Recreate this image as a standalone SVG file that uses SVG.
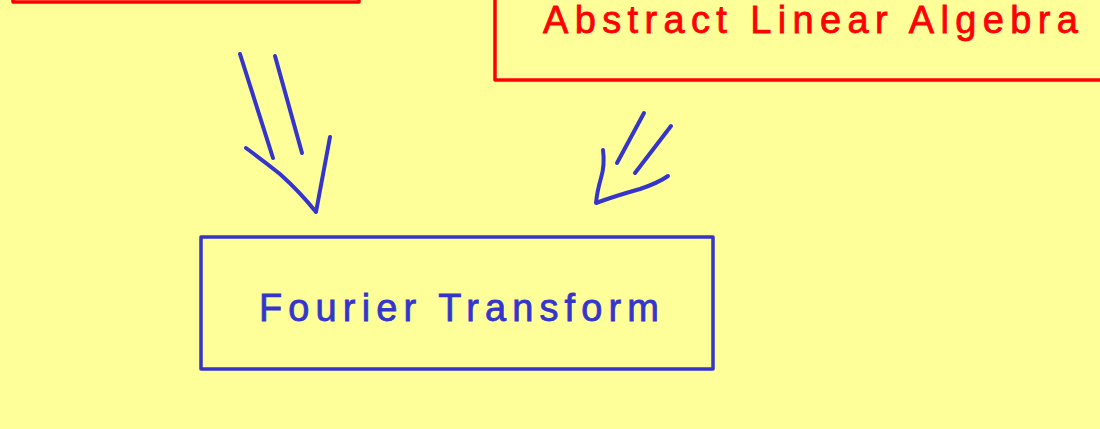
<svg xmlns="http://www.w3.org/2000/svg" width="1100" height="429" viewBox="0 0 1100 429">
  <style>
    .red-box { fill: none; stroke: #ff0000; stroke-width: 3.5; stroke-linejoin: round; }
    .blue-box { fill: none; stroke: #3535cc; stroke-width: 3.5; stroke-linejoin: round; }
    .label { font-family: "Liberation Sans", "DejaVu Sans", sans-serif; font-size: 38px; stroke-width: 0.8; }
    .red-text { fill: #ff0000; stroke: #ff0000; }
    .blue-text { fill: #3535cc; stroke: #3535cc; }
    .stroke { fill: none; stroke: #3535cc; stroke-width: 4; stroke-linecap: round; stroke-linejoin: round; }
  </style>
  <rect x="0" y="0" width="1100" height="429" fill="#ffff99"/>

  <!-- upper-left node, mostly above the frame -->
  <g id="node-top-left">
    <rect class="red-box" x="13" y="-120" width="346" height="122"/>
  </g>

  <!-- upper-right node -->
  <g id="node-abstract-linear-algebra">
    <rect class="red-box" x="495" y="-60" width="660" height="140"/>
    <text class="label red-text" x="543" y="33" textLength="535" lengthAdjust="spacing">Abstract Linear Algebra</text>
  </g>

  <!-- lower node -->
  <g id="node-fourier-transform">
    <rect class="blue-box" x="201" y="237" width="512" height="132"/>
    <text class="label blue-text" x="259" y="321" textLength="400" lengthAdjust="spacing">Fourier Transform</text>
  </g>

  <!-- hand-drawn double arrows -->
  <g id="connectors">
    <g id="arrow-left">
      <path class="stroke" d="M240,54 L273,158"/>
      <path class="stroke" d="M275,56 L302,153"/>
      <path class="stroke" d="M246,148 Q265,162 280,174 Q300,192 316,212 L330,137"/>
    </g>
    <g id="arrow-right">
      <path class="stroke" d="M644,113 L617,163"/>
      <path class="stroke" d="M671,126 L635,173"/>
      <path class="stroke" d="M603,150 Q605,165 601,178 Q597,192 596,203 Q615,196 640,189 Q658,183 668,176"/>
    </g>
  </g>
</svg>
